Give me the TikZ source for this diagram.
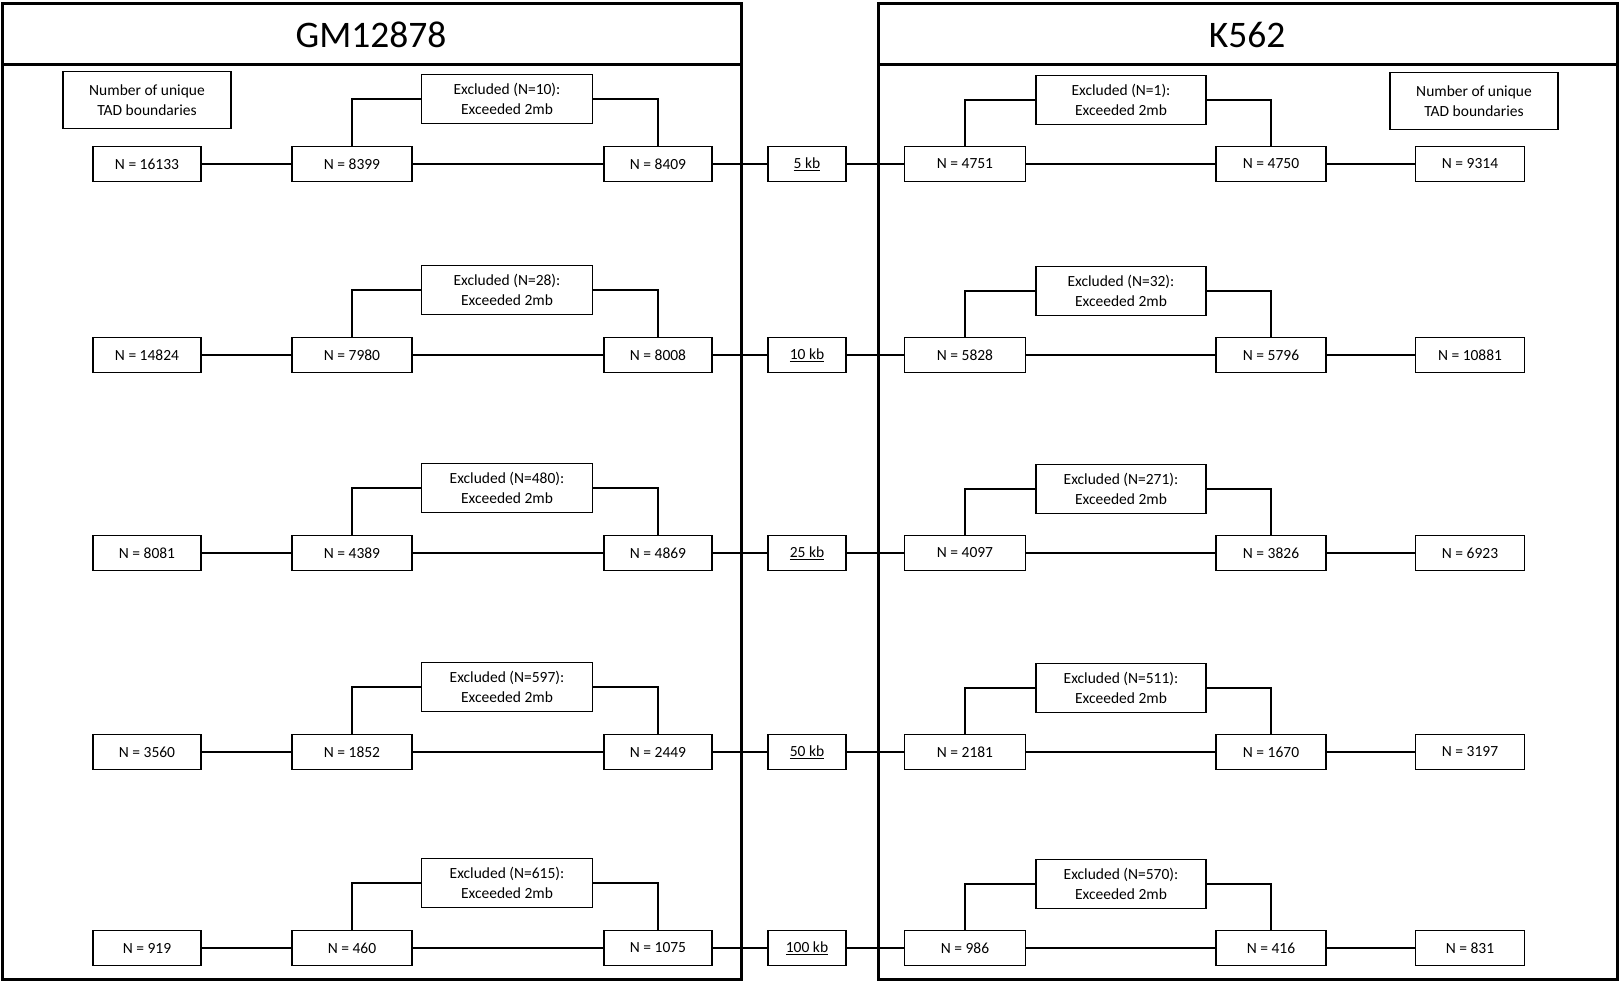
\documentclass[tikz,border=0pt]{standalone}
\usepackage{fontspec}
\setmainfont{Carlito}
\begin{document}
\begin{tikzpicture}[x=1pt,y=-1pt,
 box/.style={draw, line width=1.8pt, minimum height=35pt, inner sep=0pt, font=\fontsize{15.5}{18}\selectfont},
 exbox/.style={box, minimum width=171pt, minimum height=49pt, align=center, font=\fontsize{15.5}{19.5}\selectfont},
 numbox/.style={box, minimum width=168pt, minimum height=57pt, align=center, font=\fontsize{15.5}{20.5}\selectfont},
 conn/.style={line width=1.8pt},
 panel/.style={draw, line width=3pt},
 title/.style={font=\fontsize{37.5}{40}\selectfont, inner sep=0pt}]
\useasboundingbox (0,0) rectangle (1619,982);
% panels
\draw[panel] (2,4) rectangle (741,979);
\draw[panel] (2,65) -- (741,65);
\draw[panel] (878,4) rectangle (1617,979);
\draw[panel] (878,65) -- (1617,65);
\node[title] (tl) at (371,35) {GM12878};
\node[title] (tr) at (1247,35) {K562};
\node[numbox] (nl) at (147,100) {Number of unique\\TAD boundaries};
\node[numbox] (nr) at (1474,101) {Number of unique\\TAD boundaries};
\foreach \r/\y/\a/\b/\c/\e/\k/\d/\f/\g/\x in {
 1/164/16133/8399/8409/10/5/4751/4750/9314/1,
 2/355/14824/7980/8008/28/10/5828/5796/10881/32,
 3/553/8081/4389/4869/480/25/4097/3826/6923/271,
 4/752/3560/1852/2449/597/50/2181/1670/3197/511,
 5/948/919/460/1075/615/100/986/416/831/570}{
 \node[box, minimum width=108pt] (a\r) at (147,\y) {N = \a};
 \node[box, minimum width=120pt] (b\r) at (352,\y) {N = \b};
 \node[box, minimum width=108pt] (c\r) at (658,\y) {N = \c};
 \node[exbox] (e\r) at (507,\y-65) {Excluded (N=\e):\\Exceeded 2mb};
 \node[box, minimum width=78pt] (k\r) at (807,\y) {\underline{\k\ kb}};
 \node[box, minimum width=121pt] (d\r) at (965,\y) {N = \d};
 \node[box, minimum width=110pt] (f\r) at (1271,\y) {N = \f};
 \node[box, minimum width=109pt] (g\r) at (1470,\y) {N = \g};
 \node[exbox, minimum width=170pt] (x\r) at (1121,\y-64) {Excluded (N=\x):\\Exceeded 2mb};
 \draw[conn] (a\r) -- (b\r);
 \draw[conn] (b\r) -- (c\r);
 \draw[conn] (c\r) -- (k\r);
 \draw[conn] (k\r) -- (d\r);
 \draw[conn] (d\r) -- (f\r);
 \draw[conn] (f\r) -- (g\r);
 \draw[conn] (b\r.north) |- (e\r.west);
 \draw[conn] (e\r.east) -| (c\r.north);
 \draw[conn] (d\r.north) |- (x\r.west);
 \draw[conn] (x\r.east) -| (f\r.north);
}
\end{tikzpicture}
\end{document}
